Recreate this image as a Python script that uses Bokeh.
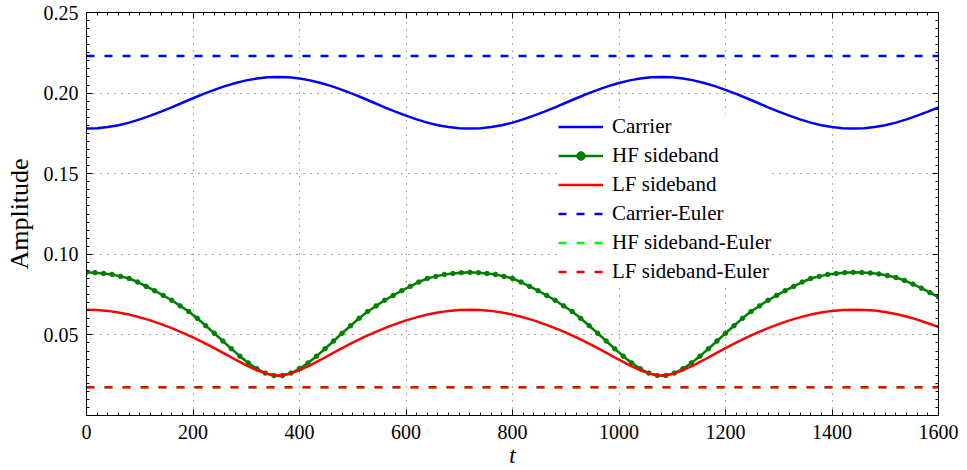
import numpy as np
from bokeh.plotting import figure
from bokeh.models import (Legend, LegendItem, LinearAxis, SingleIntervalTicker,
                          CustomJSTickFormatter, Range1d)
from bokeh.embed import file_html
from bokeh.resources import INLINE

# ---------------- data ----------------
t_main = np.arange(0, 1601, 20)      # sampling of Carrier and LF sideband
t_hf = np.arange(0, 1601, 16)        # sampling of HF sideband (markers)

carrier = [0.1780, 0.1782, 0.1790, 0.1801, 0.1817, 0.1837, 0.1860, 0.1885, 0.1912, 0.1940,
           0.1968, 0.1995, 0.2020, 0.2043, 0.2063, 0.2079, 0.2090, 0.2098, 0.2100,
           0.2098, 0.2090, 0.2079, 0.2063, 0.2043, 0.2020, 0.1995, 0.1968, 0.1940,
           0.1912, 0.1885, 0.1860, 0.1837, 0.1817, 0.1801, 0.1790, 0.1782, 0.1780,
           0.1782, 0.1790, 0.1801, 0.1817, 0.1837, 0.1860, 0.1885, 0.1912, 0.1940,
           0.1968, 0.1995, 0.2020, 0.2043, 0.2063, 0.2079, 0.2090, 0.2098, 0.2100,
           0.2098, 0.2090, 0.2079, 0.2063, 0.2043, 0.2020, 0.1995, 0.1968, 0.1940,
           0.1912, 0.1885, 0.1860, 0.1837, 0.1817, 0.1801, 0.1790, 0.1782, 0.1780,
           0.1782, 0.1790, 0.1801, 0.1817, 0.1837, 0.1860, 0.1885, 0.1912]

lf_sideband = [0.0656, 0.0654, 0.0649, 0.0639, 0.0626, 0.0609, 0.0590, 0.0567, 0.0542, 0.0514,
               0.0484, 0.0452, 0.0418, 0.0382, 0.0346, 0.0311, 0.0281, 0.0258, 0.0246,
               0.0258, 0.0281, 0.0311, 0.0346, 0.0382, 0.0418, 0.0452, 0.0484, 0.0514,
               0.0542, 0.0567, 0.0590, 0.0609, 0.0626, 0.0639, 0.0649, 0.0654, 0.0656,
               0.0654, 0.0649, 0.0639, 0.0626, 0.0609, 0.0590, 0.0567, 0.0542, 0.0514,
               0.0484, 0.0452, 0.0418, 0.0382, 0.0346, 0.0311, 0.0281, 0.0258, 0.0246,
               0.0258, 0.0281, 0.0311, 0.0346, 0.0382, 0.0418, 0.0452, 0.0484, 0.0514,
               0.0542, 0.0567, 0.0590, 0.0609, 0.0626, 0.0639, 0.0649, 0.0654, 0.0656,
               0.0655, 0.0651, 0.0642, 0.0630, 0.0614, 0.0595, 0.0572, 0.0550]

hf_sideband = [0.0888, 0.0886, 0.0881, 0.0875, 0.0863, 0.0850, 0.0828, 0.0801, 0.0774, 0.0745,
               0.0715, 0.0680, 0.0645, 0.0603, 0.0557, 0.0510, 0.0462, 0.0414, 0.0368, 0.0326,
               0.0290, 0.0263, 0.0248,
               0.0248, 0.0263, 0.0290, 0.0326, 0.0368, 0.0414, 0.0462, 0.0510, 0.0557, 0.0603,
               0.0645, 0.0680, 0.0715, 0.0745, 0.0774, 0.0801, 0.0828, 0.0850, 0.0863, 0.0875,
               0.0881, 0.0886, 0.0888,
               0.0886, 0.0881, 0.0875, 0.0863, 0.0850, 0.0828, 0.0801, 0.0774, 0.0745, 0.0715,
               0.0680, 0.0645, 0.0603, 0.0557, 0.0510, 0.0462, 0.0414, 0.0368, 0.0326, 0.0290,
               0.0263, 0.0248,
               0.0248, 0.0263, 0.0290, 0.0326, 0.0368, 0.0414, 0.0462, 0.0510, 0.0557, 0.0603,
               0.0645, 0.0680, 0.0715, 0.0745, 0.0774, 0.0801, 0.0828, 0.0850, 0.0863, 0.0875,
               0.0881, 0.0886, 0.0888,
               0.0887, 0.0884, 0.0878, 0.0868, 0.0856, 0.0838, 0.0815, 0.0790, 0.0762, 0.0735]

t_euler = [0, 1600]
carrier_euler = [0.223, 0.223]
hf_euler = [0.0176, 0.0176]
lf_euler = [0.0176, 0.0176]

x_label = "t"
y_label = "Amplitude"

# ---------------- figure ----------------
FONT = "Liberation Serif"

p = figure(width=967, height=470, output_backend="svg", toolbar_location=None,
           x_range=Range1d(0, 1600), y_range=Range1d(0, 0.25),
           min_border_left=86, min_border_right=29, min_border_top=12, min_border_bottom=55)
p.outline_line_color = "black"
p.outline_line_width = 1

# lines
c_line = p.line(t_main, carrier, line_color="#0000ff", line_width=2.5)
hf_line = p.line(t_hf, hf_sideband, line_color="#008000", line_width=2.5)
hf_dots = p.scatter(t_hf, hf_sideband, size=4.5, fill_color="#008000", line_color="#008000")
lf_line = p.line(t_main, lf_sideband, line_color="#ff0000", line_width=2.5)
ce_line = p.line(t_euler, carrier_euler, line_color="#0000ff", line_width=2.5, line_dash="8 10")
he_line = p.line(t_euler, hf_euler, line_color="#00ff00", line_width=2.5, line_dash="8 10")
le_line = p.line(t_euler, lf_euler, line_color="#ff0000", line_width=2.5, line_dash="8 10")

# axes
xt = SingleIntervalTicker(interval=200, num_minor_ticks=10)
yt = SingleIntervalTicker(interval=0.05, num_minor_ticks=10)
yfmt = CustomJSTickFormatter(code="return tick < 1e-9 ? '' : tick.toFixed(2);")

p.xaxis.ticker = xt
p.yaxis.ticker = yt
p.yaxis.formatter = yfmt

for ax in (p.xaxis[0], p.yaxis[0]):
    ax.major_tick_in = 6
    ax.major_tick_out = 0
    ax.minor_tick_in = 3
    ax.minor_tick_out = 0
    ax.major_label_text_font = FONT
    ax.major_label_text_font_size = "20px"
    ax.major_label_text_color = "black"
    ax.axis_label_text_font = FONT
    ax.axis_label_text_font_size = "26px"
    ax.axis_label_text_font_style = "normal"
    ax.axis_label_text_color = "black"
    ax.axis_line_color = "black"
    ax.major_tick_line_color = "black"
    ax.minor_tick_line_color = "black"

p.xaxis.axis_label = x_label
p.xaxis.axis_label_text_font_style = "italic"
p.xaxis.axis_label_text_font_size = "23px"
p.xaxis.major_label_text_line_height = 0.8
p.xaxis.axis_label_text_line_height = 0.8
p.xaxis.major_label_standoff = 9
p.xaxis.axis_label_standoff = 1
p.yaxis.axis_label = y_label
p.yaxis.major_label_standoff = 8
p.yaxis.axis_label_standoff = 7

empty = CustomJSTickFormatter(code="return '';")
top = LinearAxis(ticker=SingleIntervalTicker(interval=200, num_minor_ticks=10),
                 formatter=empty, major_label_text_font_size="1px", major_label_standoff=0,
                 major_tick_in=6, major_tick_out=0, minor_tick_in=3, minor_tick_out=0)
right = LinearAxis(ticker=SingleIntervalTicker(interval=0.05, num_minor_ticks=10),
                   formatter=empty, major_label_text_font_size="1px", major_label_standoff=0,
                   major_tick_in=6, major_tick_out=0, minor_tick_in=3, minor_tick_out=0)
p.add_layout(top, "above")
p.add_layout(right, "right")

# grid
for g in (p.xgrid[0], p.ygrid[0]):
    g.grid_line_color = "#555555"
    g.grid_line_dash = "1 6"
    g.grid_line_width = 1
p.xgrid.ticker = xt
p.ygrid.ticker = yt

# legend
legend = Legend(items=[
    LegendItem(label="Carrier", renderers=[c_line]),
    LegendItem(label="HF sideband", renderers=[hf_line, hf_dots]),
    LegendItem(label="LF sideband", renderers=[lf_line]),
    LegendItem(label="Carrier-Euler", renderers=[ce_line]),
    LegendItem(label="HF sideband-Euler", renderers=[he_line]),
    LegendItem(label="LF sideband-Euler", renderers=[le_line]),
], location=(472, 131))
legend.label_text_font = FONT
legend.label_text_font_size = "21px"
legend.label_text_color = "black"
legend.glyph_width = 45
legend.glyph_height = 21
legend.label_height = 21
legend.label_standoff = 9
legend.spacing = 4
legend.padding = 0
legend.margin = 0
legend.border_line_alpha = 0
legend.background_fill_color = "white"
legend.background_fill_alpha = 1
p.add_layout(legend, "center")

open("out.html", "w").write(file_html(p, INLINE))
